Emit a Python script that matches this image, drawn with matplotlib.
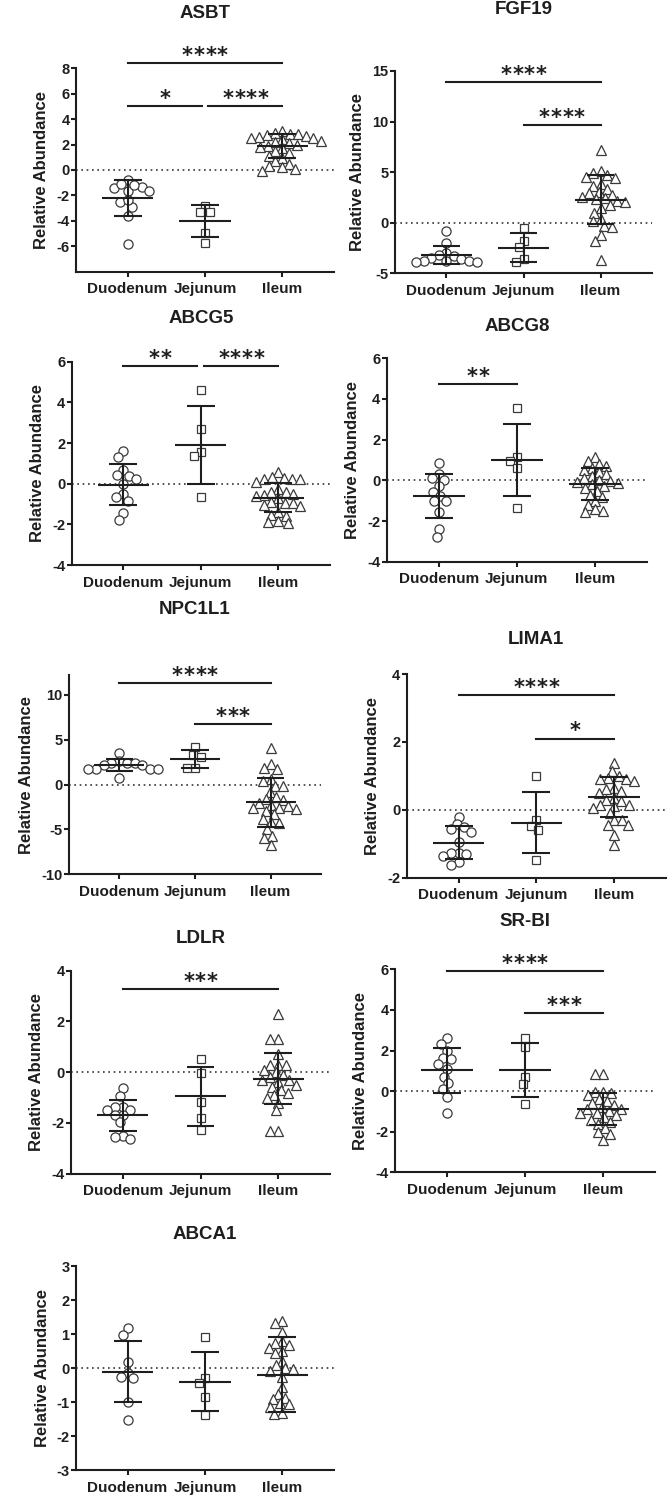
import numpy as np
import matplotlib
matplotlib.use('Agg')
from matplotlib import pyplot as plt

plt.rcParams['font.family'] = ['Liberation Sans', 'DejaVu Sans']
plt.rcParams['font.weight'] = 'bold'

regions = ['Duodenum', 'Jejunum', 'Ileum']

# values
asbt_duo = [-0.80, -1.32, -1.64, -1.46, -1.14, -1.64, -1.19, -2.56, -2.90, -2.38, -3.64, -5.87]
asbt_jej = [-2.82, -3.32, -3.32, -5.00, -5.74]
asbt_ile = [3.10, 2.90, 2.85, 2.80, 2.75, 2.70, 2.60, 2.55, 2.50, 2.40, 2.30, 2.20, 2.10, 2.00,
            1.90, 1.80, 1.70, 1.50, 1.30, 1.10, 0.90, 0.70, 0.50, 0.30, 0.20, 0.10, -0.10]
asbt_mean = [-2.22, -4.03, 1.88]
asbt_sd = [1.40, 1.27, 0.96]
asbt_sig = [(0, 2, 8.44, '****'), (0, 0.955, 5.03, '*'), (1.045, 2, 5.03, '****')]

fgf19_duo = [-0.82, -2.03, -3.0, -3.2, -3.3, -3.5, -3.6, -3.8, -3.8, -3.8, -3.9, -3.9]
fgf19_jej = [-0.49, -1.78, -2.43, -3.62, -3.92]
fgf19_ile = [7.2, 5.1, 4.9, 4.7, 4.5, 4.4, 3.8, 3.6, 3.3, 3.0, 2.9, 2.7, 2.5, 2.4, 2.3, 2.1,
             2.0, 1.8, 1.5, 1.0, 0.4, 0.2, -0.3, -0.4, -1.2, -1.8, -3.7]
fgf19_mean = [-3.22, -2.46, 2.25]
fgf19_sd = [0.90, 1.40, 2.42]
fgf19_sig = [(0, 2, 13.95, '****'), (1, 2, 9.66, '****')]

abcg5_duo = [1.62, 1.33, 0.67, 0.43, 0.39, 0.21, 0.0, -0.52, -0.67, -0.84, -1.46, -1.79]
abcg5_jej = [4.61, 2.67, 1.57, 1.36, -0.64]
abcg5_ile = [0.56, 0.34, 0.28, 0.25, 0.21, 0.21, 0.10, -0.26, -0.39, -0.43, -0.50, -0.57, -0.60,
             -0.72, -0.89, -0.96, -0.97, -1.05, -1.10, -1.41, -1.54, -1.57, -1.82, -1.90, -1.95]
abcg5_mean = [-0.05, 1.90, -0.69]
abcg5_sd = [1.02, 1.92, 0.72]
abcg5_sig = [(0, 0.955, 5.79, '**'), (1.045, 2, 5.79, '****')]

abcg8_duo = [0.87, 0.30, 0.13, 0.02, -0.28, -0.56, -0.77, -1.02, -1.02, -1.57, -2.39, -2.77]
abcg8_jej = [3.54, 1.16, 0.97, 0.62, -1.38]
abcg8_ile = [1.15, 0.95, 0.80, 0.70, 0.60, 0.50, 0.40, 0.30, 0.20, 0.10, 0.00, -0.05, -0.10,
             -0.15, -0.20, -0.30, -0.40, -0.50, -0.70, -0.80, -1.00, -1.20, -1.40, -1.50, -1.55]
abcg8_mean = [-0.77, 1.00, -0.18]
abcg8_sd = [1.07, 1.76, 0.78]
abcg8_sig = [(0, 1, 4.72, '**')]

npc1l1_duo = [3.52, 2.63, 2.41, 2.41, 2.41, 2.15, 2.15, 1.78, 1.78, 1.78, 1.78, 0.74]
npc1l1_jej = [4.19, 3.33, 3.07, 1.85, 1.85]
npc1l1_ile = [4.07, 2.33, 1.85, 1.78, 0.59, 0.40, -0.15, -0.15, -0.80, -1.37, -1.60, -1.74, -2.10,
              -2.30, -2.40, -2.56, -2.60, -2.70, -3.00, -3.30, -3.80, -4.20, -4.30, -5.00, -5.70,
              -6.00, -6.70]
npc1l1_mean = [2.15, 2.83, -2.00]
npc1l1_sd = [0.65, 0.98, 2.68]
npc1l1_sig = [(0, 2, 11.33, '****'), (1, 2, 6.78, '***')]

lima1_duo = [-0.20, -0.43, -0.52, -0.58, -0.65, -0.94, -1.26, -1.26, -1.30, -1.35, -1.53, -1.63]
lima1_jej = [1.01, -0.30, -0.48, -0.60, -1.48]
lima1_ile = [1.38, 1.15, 1.00, 0.95, 0.90, 0.90, 0.85, 0.65, 0.60, 0.55, 0.50, 0.35, 0.30, 0.25,
             0.15, 0.15, 0.10, 0.05, -0.10, -0.30, -0.30, -0.45, -0.45, -0.75, -1.05]
lima1_mean = [-0.97, -0.38, 0.38]
lima1_sd = [0.48, 0.90, 0.60]
lima1_sig = [(0, 2, 3.38, '****'), (1, 2, 2.10, '*')]

ldlr_duo = [-0.64, -0.94, -1.36, -1.36, -1.47, -1.47, -1.69, -1.69, -1.98, -2.50, -2.54, -2.64]
ldlr_jej = [0.51, -0.05, -1.19, -1.82, -2.28]
ldlr_ile = [2.30, 1.30, 1.30, 0.70, 0.30, 0.30, 0.30, 0.10, 0.00, -0.10, -0.20, -0.30, -0.30,
            -0.40, -0.50, -0.60, -0.70, -0.80, -0.90, -1.00, -1.20, -1.50, -2.30, -2.30]
ldlr_mean = [-1.69, -0.95, -0.25]
ldlr_sd = [0.61, 1.16, 1.02]
ldlr_sig = [(0, 2, 3.26, '***')]

srbi_duo = [2.60, 2.32, 1.98, 1.65, 1.58, 1.34, 1.07, 0.71, 0.38, 0.10, -0.28, -1.08]
srbi_jej = [2.63, 2.16, 0.71, 0.33, -0.63]
srbi_ile = [0.85, 0.85, -0.05, -0.05, -0.10, -0.20, -0.40, -0.50, -0.60, -0.70, -0.80, -0.90,
            -0.90, -1.00, -1.10, -1.10, -1.20, -1.30, -1.40, -1.50, -1.60, -1.80, -2.00, -2.10, -2.40]
srbi_mean = [1.02, 1.03, -0.90]
srbi_sd = [1.11, 1.34, 0.79]
srbi_sig = [(0, 2, 5.92, '****'), (1, 2, 3.83, '***')]

abca1_duo = [1.17, 0.97, 0.19, -0.14, -0.25, -0.30, -0.99, -1.53]
abca1_jej = [0.92, -0.28, -0.45, -0.84, -1.38]
abca1_ile = [1.38, 1.33, 1.07, 0.80, 0.73, 0.68, 0.58, 0.50, 0.43, 0.21, 0.09, -0.01, -0.03,
             -0.08, -0.25, -0.55, -0.75, -0.87, -0.92, -1.04, -1.07, -1.14, -1.33, -1.36]
abca1_mean = [-0.11, -0.40, -0.20]
abca1_sd = [0.90, 0.86, 1.10]
abca1_sig = []

W, H = 668, 1498
fig = plt.figure(figsize=(W / 100, H / 100), dpi=100)
ink = '#1e1e1e'
markers = ['o', 's', '^']
msizes = [6.6, 6.0, 7.2]


def swarm(ax, vals, d=8.0):
    # simple beeswarm in pixel space, markers may touch a little
    ys = ax.transData.transform(np.column_stack([np.zeros(len(vals)), vals]))[:, 1]
    xs = np.zeros(len(vals))
    placed = []
    for i in np.argsort(-ys):
        y = ys[i]
        near = [(px, py) for px, py in placed if abs(py - y) < d]
        cands = [0.0]
        for px, py in near:
            dx = np.sqrt(d ** 2 - (py - y) ** 2)
            cands += [px - dx, px + dx]
        cands.sort(key=abs)
        for c in cands:
            if all((c - px) ** 2 + (y - py) ** 2 >= d ** 2 - 1e-6 for px, py in near):
                xs[i] = c
                break
        placed.append((xs[i], y))
    unit = ax.transData.transform([(1, 0)])[0][0] - ax.transData.transform([(0, 0)])[0][0]
    return xs / unit


def panel(box, ylim, yticks, title, title_y, groups, means, sds, sig):
    left, right, top, bottom = box
    ax = fig.add_axes([left / W, 1 - bottom / H, (right - left) / W, (bottom - top) / H])
    ax.set_xlim(-0.667, 2.667)
    ax.set_ylim(*ylim)
    for s in ['top', 'right']:
        ax.spines[s].set_visible(False)
    for s in ['left', 'bottom']:
        ax.spines[s].set_linewidth(1.5)
        ax.spines[s].set_color(ink)
    ax.set_xticks(range(3))
    ax.set_xticklabels(regions, fontsize=11, fontweight='bold')
    ax.set_yticks(yticks)
    ax.set_yticklabels([str(t) for t in yticks], fontsize=10.5, fontweight='bold')
    ax.tick_params(axis='both', length=3.6, width=1.5, color=ink, labelcolor=ink)
    ax.tick_params(axis='y', pad=1)
    ax.tick_params(axis='x', pad=4)
    ax.set_ylabel('Relative Abundance', fontsize=12, fontweight='bold', color=ink, labelpad=5)
    ax.axhline(0, color='#333333', lw=1.2, ls=(0, (1, 2.2)), zorder=1)

    for k, vals in enumerate(groups):
        off = swarm(ax, vals)
        ax.plot(k + off, vals, ls='none', marker=markers[k], ms=msizes[k],
                mfc='white', mec='#3a3a3a', mew=0.9, zorder=2, clip_on=False)
        m, sd = means[k], sds[k]
        ax.hlines(m, k - 0.33, k + 0.33, color=ink, lw=1.5, zorder=3)
        ax.vlines(k, m - sd, m + sd, color=ink, lw=1.5, zorder=3)
        ax.hlines([m - sd, m + sd], k - 0.18, k + 0.18, color=ink, lw=1.5, zorder=3)

    for x1, x2, y, lab in sig:
        ax.plot([x1, x2], [y, y], color=ink, lw=1.5, clip_on=False, zorder=3)
        n = len(lab)
        for j, ch in enumerate(lab):
            ax.annotate(ch, xy=((x1 + x2) / 2, y), xytext=((j - (n - 1) / 2) * 8.4, 0.8),
                        textcoords='offset points', ha='center', va='baseline',
                        fontsize=15, fontweight='bold', family='DejaVu Sans',
                        color=ink, annotation_clip=False)

    fig.text((left + right) / 2 / W, 1 - title_y / H, title, ha='center', va='center',
             fontsize=13.5, fontweight='bold', color=ink)
    return ax


panel((76, 334, 68.3, 271.5), (-8, 8), [-6, -4, -2, 0, 2, 4, 6, 8], 'ASBT', 14,
      [asbt_duo, asbt_jej, asbt_ile], asbt_mean, asbt_sd, asbt_sig)
panel((395, 652, 71, 273.3), (-5, 15), [-5, 0, 5, 10, 15], 'FGF19', 10,
      [fgf19_duo, fgf19_jej, fgf19_ile], fgf19_mean, fgf19_sd, fgf19_sig)
panel((71.7, 330, 361.7, 565), (-4, 6), [-4, -2, 0, 2, 4, 6], 'ABCG5', 318.3,
      [abcg5_duo, abcg5_jej, abcg5_ile], abcg5_mean, abcg5_sd, abcg5_sig)
panel((386.7, 647, 358.3, 561.7), (-4, 6), [-4, -2, 0, 2, 4, 6], 'ABCG8', 326.7,
      [abcg8_duo, abcg8_jej, abcg8_ile], abcg8_mean, abcg8_sd, abcg8_sig)
panel((69, 321, 675, 874.3), (-10, 12.2), [-10, -5, 0, 5, 10], 'NPC1L1', 610,
      [npc1l1_duo, npc1l1_jej, npc1l1_ile], npc1l1_mean, npc1l1_sd, npc1l1_sig)
panel((406.7, 666, 674, 877.7), (-2, 4), [-2, 0, 2, 4], 'LIMA1', 640,
      [lima1_duo, lima1_jej, lima1_ile], lima1_mean, lima1_sd, lima1_sig)
panel((71, 330, 970.7, 1173.7), (-4, 4), [-4, -2, 0, 2, 4], 'LDLR', 938.3,
      [ldlr_duo, ldlr_jej, ldlr_ile], ldlr_mean, ldlr_sd, ldlr_sig)
panel((395, 655, 969.3, 1172.3), (-4, 6), [-4, -2, 0, 2, 4, 6], 'SR-BI', 921.7,
      [srbi_duo, srbi_jej, srbi_ile], srbi_mean, srbi_sd, srbi_sig)
panel((76, 334, 1266, 1470), (-3, 3), [-3, -2, -1, 0, 1, 2, 3], 'ABCA1', 1234.3,
      [abca1_duo, abca1_jej, abca1_ile], abca1_mean, abca1_sd, abca1_sig)

fig.savefig('out.png', dpi=100, facecolor='white')
